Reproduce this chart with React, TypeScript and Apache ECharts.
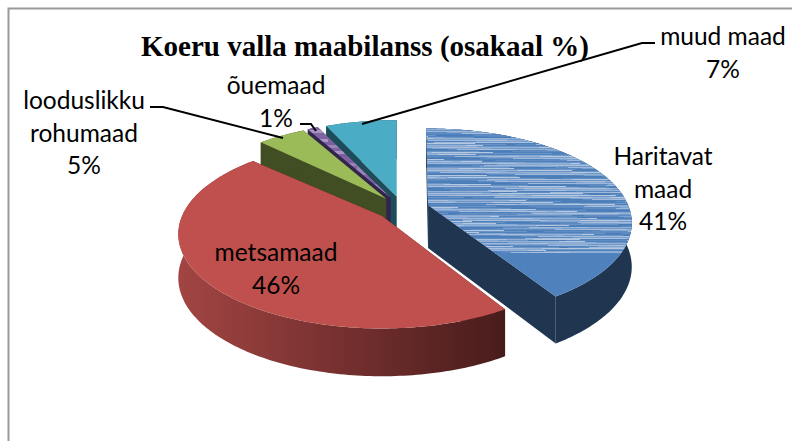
import React, { useEffect, useRef } from "react";
import * as echarts from "echarts";

const titleText = "Koeru valla maabilanss (osakaal %)";
const sliceNames = ["Haritavat\nmaad", "metsamaad", "looduslikku\nrohumaad", "õuemaad", "muud maad"];
const sliceValues = [41, 46, 5, 1, 7];
const topColors = ["#4f81bd", "#c0504d", "#9bbb59", "#8064a2", "#4bacc6"];
const wallColors = ["#1f3550", "#4a1d1c", "#414d22", "#33244d", "#1e4d5a"];
const paintOrder = [4, 3, 2, 0, 1];
const startTrim = [-0.6, 1.4, 1.5, 0, 0.8];

const blueShades = ["#6f97c8", "#4f81bd", "#a9bfdd", "#6a93c6", "#5b89c0", "#93b0d6", "#4a7cb8", "#7ea2ce", "#b4c8e2", "#5f8cc2", "#88a9d2", "#4f81bd", "#9db8da"];
const purpleShades = ["#8064a2", "#a795c4", "#7a5fa0", "#9885b8"];
const cellWidths = [38, 61, 17, 84, 26, 47, 12, 72, 33, 55, 9, 21];

const CX = 402.5, CY = 208.4, RX = 200, RY = 91, PERSP = 0.19, EXPLODE = 0.133;
const depthAt = (y: number) => 43 / (1 - 0.1 * y);

function dirOf(deg: number) {
  const r = (deg * Math.PI) / 180;
  return { x: Math.sin(r), y: -Math.cos(r) };
}

function clipPoly(pts: number[][], test: (p: number[]) => number) {
  const out: number[][] = [];
  for (let i = 0; i < pts.length; i++) {
    const a = pts[i], b = pts[(i + 1) % pts.length];
    const ta = test(a), tb = test(b);
    if (ta >= 0) out.push(a);
    if (ta >= 0 !== tb >= 0) {
      const t = ta / (ta - tb);
      out.push([a[0] + (b[0] - a[0]) * t, a[1] + (b[1] - a[1]) * t]);
    }
  }
  return out;
}

function textureCells(poly: number[][], yMax: number, rowH: number, shades: string[]) {
  const xs = poly.map((p) => p[0]), ys = poly.map((p) => p[1]);
  const minX = Math.floor(Math.min(...xs)), maxX = Math.ceil(Math.max(...xs));
  const minY = Math.floor(Math.min(...ys)), maxY = Math.min(yMax, Math.ceil(Math.max(...ys)));
  const cells: any[] = [];
  let row = 0;
  for (let y = minY; y < maxY; y += rowH, row++) {
    const band = clipPoly(clipPoly(poly, (p) => p[1] - y), (p) => y + rowH - p[1]);
    if (band.length < 3) continue;
    let x = minX - (row * 13) % 40, k = 0;
    while (x < maxX) {
      const w = cellWidths[(row * 5 + k) % cellWidths.length];
      const x0 = x, x1 = x + w;
      const cell = clipPoly(clipPoly(band, (p) => p[0] - x0), (p) => x1 - p[0]);
      if (cell.length >= 3) {
        cells.push({
          type: "polygon",
          shape: { points: cell },
          style: { fill: shades[(row * 4 + k * 3 + (row % 3)) % shades.length] },
          silent: true,
        });
      }
      x = x1;
      k++;
    }
  }
  return cells;
}

export default function App() {
  const ref = useRef<HTMLDivElement>(null);
  useEffect(() => {
    document.body.style.margin = "0";
    const chart = echarts.init(ref.current!, null, { renderer: "svg" });
    const total = sliceValues.reduce((a, b) => a + b, 0);
    const starts: number[] = [];
    let acc = 0;
    sliceValues.forEach((v) => {
      starts.push(acc);
      acc += v;
    });

    const renderItem = (_params: any, api: any) => {
      const idx = api.value(0);
      const value = api.value(1);
      const rawStart = (api.value(2) / total) * 360;
      const a1 = rawStart + (value / total) * 360;
      const a0 = rawStart + startTrim[idx];
      const mid = dirOf((rawStart + a1) / 2);
      const ax = CX + EXPLODE * mid.x * RX;
      const ay = CY + EXPLODE * mid.y * RY;
      const top: number[][] = [];
      const bottom: number[][] = [];
      const steps = Math.max(2, Math.ceil(a1 - a0));
      for (let i = 0; i <= steps; i++) {
        const d = dirOf(a0 + ((a1 - a0) * i) / steps);
        const k = 1 - PERSP * d.y;
        const px = ax + (RX * d.x) / k;
        const py = ay + (RY * d.y) / k;
        top.push([px, py]);
        bottom.push([px, py + depthAt(d.y)]);
      }
      const apex = [ax, ay];
      const apexB = [ax, ay + depthAt(0)];
      const first = top[0], last = top[top.length - 1];
      const firstB = bottom[0], lastB = bottom[bottom.length - 1];
      const wallFill =
        idx === 1
          ? new echarts.graphic.LinearGradient(0, 0, 1, 0, [
              { offset: 0, color: "#a24543" },
              { offset: 1, color: "#481c1b" },
            ])
          : wallColors[idx];
      const children: any[] = [
        { type: "polygon", shape: { points: [apex, first, firstB, apexB] }, style: { fill: wallColors[idx] }, silent: true },
        { type: "polygon", shape: { points: [apex, last, lastB, apexB] }, style: { fill: wallColors[idx] }, silent: true },
        { type: "polygon", shape: { points: [...top, ...bottom.slice().reverse()] }, style: { fill: wallFill }, silent: true },
      ];
      const topPoly = [apex, ...top];
      children.push({ type: "polygon", shape: { points: topPoly }, style: { fill: topColors[idx] }, silent: true });
      if (idx === 0) children.push(...textureCells(topPoly, 253, 1, blueShades));
      if (idx === 3) children.push(...textureCells(topPoly, 400, 3, purpleShades));
      return { type: "group", children };
    };

    const line = (points: number[][]) => ({
      type: "polyline",
      shape: { points },
      style: { stroke: "#000", lineWidth: 2, fill: "none" },
      z: 20,
      silent: true,
    });
    const label = (text: string, x: number, y: number) => ({
      type: "text",
      x,
      y,
      z: 30,
      silent: true,
      style: {
        text,
        fill: "#000",
        font: "24.5px Lato",
        lineHeight: 32.7,
        align: "center",
        verticalAlign: "middle",
      },
    });
    const pct = (i: number) => `${sliceValues[i]}%`;

    chart.setOption({
      animation: false,
      backgroundColor: "#ffffff",
      title: {
        text: titleText,
        left: 141,
        top: 31,
        padding: 0,
        textStyle: { fontFamily: "Liberation Serif", fontWeight: "bold", fontSize: 29, color: "#000" },
      },
      series: [
        {
          type: "custom",
          coordinateSystem: "none",
          renderItem,
          silent: true,
          z: 2,
          data: paintOrder.map((i) => [i, sliceValues[i], starts[i]]),
        },
      ],
      graphic: [
        line([[8.5, 441], [8.5, 8.5], [792, 8.5]]),
        line([[150, 107], [163, 107], [283, 138]]),
        line([[300, 124], [311, 124], [316, 131]]),
        line([[362, 124], [642, 43], [655, 43]]),
        label(`${sliceNames[0]}\n${pct(0)}`, 663, 188),
        label(`${sliceNames[1]}\n${pct(1)}`, 276, 268),
        label(`${sliceNames[2]}\n${pct(2)}`, 84, 132),
        label(`${sliceNames[3]}\n${pct(3)}`, 276, 101),
        label(`${sliceNames[4]}\n${pct(4)}`, 723, 52),
      ].map((g: any, i: number) =>
        i === 0 ? { ...g, style: { ...g.style, stroke: "#9a9a9a", lineWidth: 2 } } : g
      ),
    });
    return () => chart.dispose();
  }, []);
  return <div ref={ref} style={{ position: "fixed", left: 0, top: 0, width: 792, height: 441 }} />;
}
